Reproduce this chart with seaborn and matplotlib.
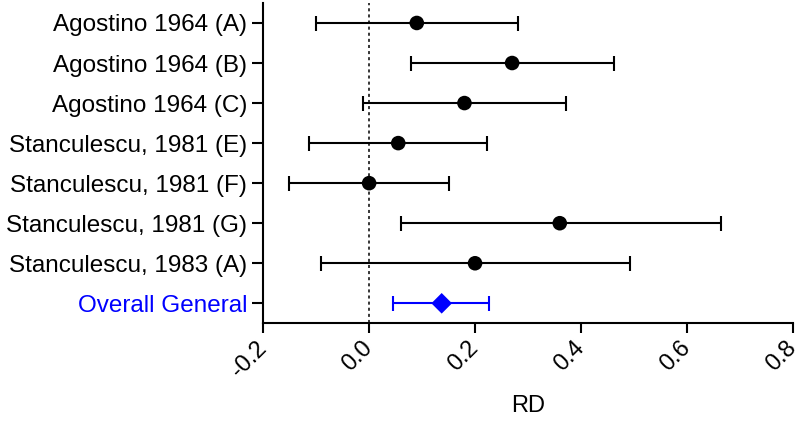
import matplotlib
matplotlib.use("Agg")
import matplotlib.pyplot as plt
import numpy as np
import pandas as pd
import seaborn as sns

# data
studies = [
    "Agostino 1964 (A)",
    "Agostino 1964 (B)",
    "Agostino 1964 (C)",
    "Stanculescu, 1981 (E)",
    "Stanculescu, 1981 (F)",
    "Stanculescu, 1981 (G)",
    "Stanculescu, 1983 (A)",
    "Overall General",
]
rd = [0.09, 0.27, 0.18, 0.055, 0.0, 0.36, 0.20, 0.137]
ci_low = [-0.10, 0.08, -0.012, -0.113, -0.151, 0.06, -0.09, 0.046]
ci_high = [0.282, 0.462, 0.372, 0.223, 0.151, 0.664, 0.492, 0.227]
kind = ["study"] * 7 + ["overall"]
x_ticks = [-0.2, 0.0, 0.2, 0.4, 0.6, 0.8]

sns.set_theme(style="ticks")
plt.rcParams["font.family"] = ["Liberation Sans", "DejaVu Sans"]
plt.rcParams["text.color"] = "black"
plt.rcParams["axes.labelcolor"] = "black"
plt.rcParams["xtick.color"] = "black"
plt.rcParams["ytick.color"] = "black"

df = pd.DataFrame(
    {"study": studies, "rd": rd, "lo": ci_low, "hi": ci_high, "kind": kind}
)
df["row"] = np.arange(len(df))

fig = plt.figure(figsize=(8, 4.21), dpi=100)
ax = fig.add_axes([0.329, 0.232, 0.662, 0.761])

colors = {"study": "black", "overall": "#0000ff"}

# confidence intervals
for k, sub in df.groupby("kind"):
    ax.errorbar(
        sub["rd"], sub["row"],
        xerr=[sub["rd"] - sub["lo"], sub["hi"] - sub["rd"]],
        fmt="none", ecolor=colors[k], elinewidth=1.5,
        capsize=5.4, capthick=1.5, zorder=2,
    )

# point estimates
sns.scatterplot(
    data=df, x="rd", y="row", hue="kind", style="kind",
    palette=colors, markers={"study": "o", "overall": "D"},
    s=110, edgecolor="none", legend=False, ax=ax, zorder=3,
)

ax.axvline(0, color="black", linestyle=(0, (2, 2)), linewidth=1.1, zorder=1)

ax.set_xlim(-0.2, 0.8)
ax.set_ylim(len(df) - 0.5, -0.5)
ax.set_xticks(x_ticks)
ax.set_xticklabels([f"{t:.1f}" for t in x_ticks], rotation=45,
                   ha="right", va="center", rotation_mode="anchor")
ax.set_yticks(df["row"])
ax.set_yticklabels(studies)
for lab, k in zip(ax.get_yticklabels(), kind):
    lab.set_color(colors[k])

ax.tick_params(axis="y", labelsize=17.5, width=1.5, length=8)
ax.tick_params(axis="x", labelsize=17, width=1.5, length=7.5, pad=8)
ax.set_xlabel("RD", fontsize=17, labelpad=10)
ax.set_ylabel("")

sns.despine(ax=ax)
for side in ["left", "bottom"]:
    ax.spines[side].set_linewidth(1.5)
    ax.spines[side].set_color("black")

fig.savefig("out.png", dpi=100)
